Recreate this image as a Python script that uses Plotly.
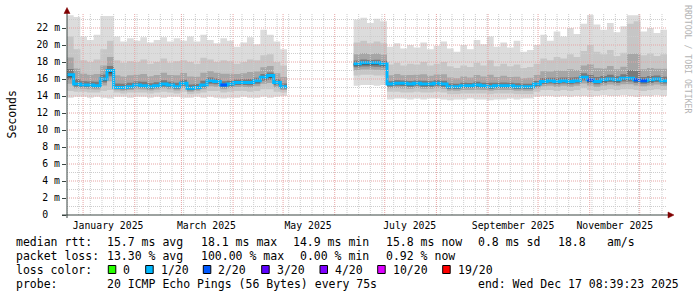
import plotly.graph_objects as go
import pandas as pd

# ---------------- data ----------------
START = "2024-12-22 08:39:23"
END = "2025-12-17 08:39:23"
STEP = "4D"
N = None

rtt_median = [16.5, 15.4, 15.3, 15.3, 15.2, 16.0, 17.0, 15.0, 15.0, 15.1,
              15.3, 15.2, 15.1, 15.2, 15.4, 15.3, 15.1, 15.5, 14.9, 15.0,
              15.3, 15.8, 15.7, 15.3, 15.4, 15.6, 15.6, 15.6, 15.8, 16.2,
              16.4, 15.6, 15.1, N, N, N, N, N, N, N,
              N, N, N, 17.8, 17.9, 17.9, 17.9, 17.8, 15.4, 15.5,
              15.5, 15.4, 15.5, 15.4, 15.4, 15.5, 15.4, 15.1, 15.1, 15.2,
              15.2, 15.3, 15.2, 15.1, 15.2, 15.2, 15.2, 15.1, 15.1, 15.1,
              15.4, 15.7, 15.8, 15.7, 15.8, 15.7, 15.8, 16.2, 15.9, 15.7,
              15.9, 16.0, 15.9, 16.1, 16.1, 15.9, 15.8, 15.9, 16.0, 15.8]

rtt_max = [23.5, 23.3, 21.0, 20.6, 21.2, 23.4, 23.4, 21.0, 20.4, 20.8,
           20.5, 20.9, 20.3, 20.6, 20.9, 20.4, 20.8, 20.5, 21.0, 20.4,
           21.2, 20.6, 20.2, 20.8, 20.5, 19.8, 20.3, 20.9, 20.1, 21.8,
           21.2, 20.4, 19.5, N, N, N, N, N, N, N,
           N, N, N, 23.0, 23.2, 22.6, 23.1, 22.8, 19.8, 20.2,
           19.6, 20.0, 19.7, 20.3, 19.5, 19.9, 20.4, 19.6, 19.2, 20.0,
           19.5, 20.6, 20.1, 21.0, 19.8, 20.3, 19.7, 20.5, 19.2, 19.4,
           20.0, 21.2, 20.5, 21.6, 21.0, 22.0, 21.3, 22.5, 23.6, 22.4,
           21.8, 22.6, 21.5, 22.2, 23.5, 23.5, 21.6, 22.0, 21.4, 21.8]

rtt_high = [21.0, 19.5, 18.2, 18.0, 18.3, 19.5, 20.5, 18.2, 17.9, 18.1,
            18.0, 18.3, 17.8, 18.0, 18.4, 17.9, 18.1, 18.2, 18.0, 17.8,
            18.5, 18.3, 18.0, 18.2, 18.1, 17.8, 18.0, 18.3, 18.2, 18.8,
            18.9, 18.0, 17.6, N, N, N, N, N, N, N,
            N, N, N, 20.3, 20.5, 20.2, 20.4, 20.2, 17.7, 17.9,
            17.6, 17.8, 17.7, 18.0, 17.6, 17.8, 18.0, 17.5, 17.3, 17.6,
            17.4, 17.9, 17.6, 18.2, 17.5, 17.8, 17.5, 17.7, 17.3, 17.4,
            17.8, 18.4, 18.2, 18.6, 18.4, 18.9, 18.6, 19.3, 20.0, 19.2,
            18.9, 19.4, 18.7, 19.1, 22.5, 22.8, 18.8, 19.0, 18.7, 18.9]

rtt_low = [14.6, 14.5, 14.5, 14.4, 14.4, 14.6, 14.7, 14.4, 14.3, 14.4,
           14.4, 14.4, 14.3, 14.4, 14.5, 14.4, 14.3, 14.5, 14.2, 14.3,
           14.4, 14.6, 14.6, 14.4, 14.5, 14.6, 14.6, 14.5, 14.6, 14.8,
           14.8, 14.5, 14.4, N, N, N, N, N, N, N,
           N, N, N, 16.4, 16.5, 16.5, 16.4, 16.4, 14.5, 14.5,
           14.4, 14.4, 14.5, 14.4, 14.4, 14.5, 14.4, 14.2, 14.2, 14.3,
           14.3, 14.3, 14.3, 14.2, 14.3, 14.3, 14.3, 14.2, 14.2, 14.2,
           14.5, 14.7, 14.7, 14.6, 14.7, 14.6, 14.7, 14.9, 14.7, 14.6,
           14.7, 14.8, 14.7, 14.8, 14.8, 14.7, 14.6, 14.7, 14.8, 14.7]

rtt_min = [13.8, 13.9, 13.9, 13.8, 13.9, 13.8, 13.7, 13.9, 13.9, 13.8,
           13.9, 13.9, 13.8, 13.9, 13.8, 13.9, 13.9, 13.8, 13.8, 13.9,
           13.8, 13.9, 13.8, 13.7, 13.8, 13.8, 13.9, 13.8, 13.8, 13.9,
           13.8, 13.9, 14.0, N, N, N, N, N, N, N,
           N, N, N, 15.2, 15.3, 15.3, 15.2, 15.3, 13.6, 13.7,
           13.7, 13.6, 13.7, 13.6, 13.7, 13.7, 13.6, 13.5, 13.6, 13.6,
           13.7, 13.6, 13.6, 13.5, 13.6, 13.6, 13.7, 13.6, 13.7, 13.7,
           13.9, 14.0, 14.0, 13.9, 14.0, 13.9, 14.0, 14.0, 13.9, 14.0,
           14.1, 14.0, 14.0, 14.1, 14.0, 13.9, 14.0, 14.0, 14.1, 14.0]

loss_level = [1] * 90
for _i in (23, 78, 85, 86):
    loss_level[_i] = 2

loss_labels = ["0", "1/20", "2/20", "3/20", "4/20", "10/20", "19/20"]
loss_colors = ["#26ff00", "#00b8ff", "#0059ff", "#5e00ff", "#7e00ff", "#dd00ff", "#ff0000"]
loss_index = {0: 0, 1: 1, 2: 2, 3: 3, 4: 4, 10: 5, 19: 6}

month_labels = ["January 2025", "March 2025", "May 2025", "July 2025",
                "September 2025", "November 2025"]
month_label_dates = ["2025-01-16", "2025-03-16", "2025-05-16", "2025-07-16",
                     "2025-09-16", "2025-11-16"]

y_tick_vals = [0, 2, 4, 6, 8, 10, 12, 14, 16, 18, 20, 22]
y_tick_text = ["0\u00a0\u00a0"] + [f"{v} m" for v in y_tick_vals[1:]]

rtt_stats = ["15.7 ms avg", "18.1 ms max", "14.9 ms min", "15.8 ms now", "0.8 ms sd", "18.8", "am/s"]
loss_stats = ["13.30 % avg", "100.00 % max", "0.00 % min", "0.92 % now"]
probe_text = "20 ICMP Echo Pings (56 Bytes) every 75s"
end_text = "end: Wed Dec 17 08:39:23 2025"

# ---------------- layout geometry (pixels) ----------------
W, H = 697, 297
PL, PR, PT, PB = 67, 667, 15, 215
Y_MAX = 23.53
FONT = "DejaVu Sans Mono"
AXIS_COL = "#3a4642"
ARROW_COL = "#800000"


def px(x):
    return (x - PL) / (PR - PL)


def py(y):
    return (PB - y) / (PB - PT)


bounds = pd.date_range(START, periods=len(rtt_median) + 1, freq=STEP)

# contiguous runs of data
runs = []
cur = None
for i, v in enumerate(rtt_median):
    if v is not None and cur is None:
        cur = i
    if v is None and cur is not None:
        runs.append((cur, i - 1))
        cur = None
if cur is not None:
    runs.append((cur, len(rtt_median) - 1))

fig = go.Figure()


def step_xy(arr, a, b):
    xs = list(bounds[a:b + 2])
    ys = list(arr[a:b + 1]) + [arr[b]]
    return xs, ys


def add_band(lo, hi, color, a, b):
    x, y0 = step_xy(lo, a, b)
    _, y1 = step_xy(hi, a, b)
    fig.add_trace(go.Scatter(x=x, y=y0, mode="lines", line=dict(width=0, shape="hv"),
                             hoverinfo="skip", showlegend=False))
    fig.add_trace(go.Scatter(x=x, y=y1, mode="lines", line=dict(width=0, shape="hv"),
                             fill="tonexty", fillcolor=color, hoverinfo="skip", showlegend=False))


med = rtt_median
# smoke gradient: shades blended between the read percentile arrays
m3lo = [None if m is None else m - 0.55 * (m - l) for m, l in zip(med, rtt_low)]
m3hi = [None if m is None else m + 0.45 * (h - m) for m, h in zip(med, rtt_high)]
m4lo = [None if m is None else m - 0.3 * (m - l) for m, l in zip(med, rtt_low)]
m4hi = [None if m is None else m + 0.15 * (h - m) for m, h in zip(med, rtt_high)]
m5lo = [None if m is None else m - 0.15 * (m - l) for m, l in zip(med, rtt_low)]
for a, b in runs:
    add_band(rtt_min, rtt_max, "#dcdcdc", a, b)
    add_band(rtt_low, rtt_high, "#c6c6c6", a, b)
    add_band(m3lo, m3hi, "#a6a6a6", a, b)
    add_band(m4lo, m4hi, "#7a7a7a", a, b)
    add_band(m5lo, med, "#4a4a4a", a, b)

# median line (1/20 loss colour) and other loss colours
for a, b in runs:
    x, y = step_xy(rtt_median, a, b)
    fig.add_trace(go.Scatter(x=x, y=y, mode="lines",
                             line=dict(width=3, shape="hv", color=loss_colors[1]),
                             hoverinfo="skip", showlegend=False))
for i, lv in enumerate(loss_level):
    if rtt_median[i] is None or lv == 1:
        continue
    fig.add_trace(go.Scatter(x=[bounds[i], bounds[i + 1]], y=[rtt_median[i]] * 2, mode="lines",
                             line=dict(width=3, color=loss_colors[loss_index[lv]]),
                             hoverinfo="skip", showlegend=False))

shapes = []
# horizontal grid
for yv in range(1, 24):
    if yv > Y_MAX:
        break
    major = yv % 2 == 0
    shapes.append(dict(type="line", xref="paper", yref="y", x0=0, x1=1, y0=yv, y1=yv,
                       layer="above",
                       line=dict(color="#e6a4a4" if major else "#cdcdcd", width=1, dash="1px,1px")))
# vertical grid: weekly minor, monthly major
month_starts = pd.date_range("2025-01-01", END, freq="MS")
weeks = pd.date_range(START, END, freq="W-SUN")
for d in weeks:
    if d.day == 1:
        continue
    shapes.append(dict(type="line", xref="x", yref="paper", x0=d, x1=d, y0=0, y1=1.005,
                       layer="above", line=dict(color="#cdcdcd", width=1, dash="1px,1px")))
for d in month_starts:
    shapes.append(dict(type="line", xref="x", yref="paper", x0=d, x1=d, y0=0, y1=1.005,
                       layer="above", line=dict(color="#e6a4a4", width=1, dash="1px,1px")))
# axes lines
shapes.append(dict(type="line", xref="paper", yref="paper", x0=px(62), x1=px(669), y0=0, y1=0,
                   layer="above", line=dict(color=AXIS_COL, width=1)))
shapes.append(dict(type="line", xref="paper", yref="paper", x0=0, x1=0, y0=py(218), y1=py(12),
                   layer="above", line=dict(color=AXIS_COL, width=1)))
# arrows
shapes.append(dict(type="path", xref="paper", yref="paper",
                   path=f"M {px(668)} {py(212)} L {px(674)} {py(215)} L {px(668)} {py(218)} Z",
                   fillcolor=ARROW_COL, line=dict(color=ARROW_COL, width=0.5), layer="above"))
shapes.append(dict(type="path", xref="paper", yref="paper",
                   path=f"M {px(64)} {py(13.5)} L {px(67)} {py(7.5)} L {px(70)} {py(13.5)} Z",
                   fillcolor=ARROW_COL, line=dict(color=ARROW_COL, width=0.5), layer="above"))

annotations = []


def text_at(x, y, s, size=11.5, color="#000000", anchor="left"):
    annotations.append(dict(xref="paper", yref="paper", x=px(x), y=py(y), text=s,
                            showarrow=False, xanchor=anchor, yanchor="middle",
                            borderpad=0, borderwidth=0,
                            font=dict(family=FONT, size=size, color=color)))


# legend / stats lines
y1, y2, y3, y4 = 241.5, 255.5, 269.5, 283.5
text_at(16, y1, "median rtt:")
for xx, s in zip([107.3, 200.7, 293.3, 386, 478.3, 558.3, 606.7], rtt_stats):
    text_at(xx, y1, s)
text_at(16, y2, "packet loss:")
for xx, s in zip([107.3, 200.7, 300, 386], loss_stats):
    text_at(xx, y2, s)
text_at(16, y3, "loss color:")
box_x = [108.3, 145.7, 203.3, 261.7, 320, 377.7, 442.7]
for bx, lab, col in zip(box_x, loss_labels, loss_colors):
    shapes.append(dict(type="rect", xref="paper", yref="paper",
                       x0=px(bx), x1=px(bx + 7.5), y0=py(273.5), y1=py(265.5),
                       fillcolor=col, line=dict(color="#000000", width=1), layer="above"))
    text_at(bx + 15, y3, lab)
text_at(16, y4, "probe:")
text_at(107.3, y4, probe_text)
text_at(478.3, y4, end_text)

# axis title and watermark
annotations.append(dict(xref="paper", yref="paper", x=px(11), y=py(114.5), text="Seconds",
                        showarrow=False, textangle=-90, xanchor="center", yanchor="middle",
                        font=dict(family=FONT, size=11.5, color="#000000")))
annotations.append(dict(xref="paper", yref="paper", x=px(688), y=py(59), text="RRDTOOL / TOBI OETIKER",
                        showarrow=False, textangle=90, xanchor="center", yanchor="middle",
                        font=dict(family=FONT, size=8.2, color="#b4b4b4")))

fig.update_layout(
    width=W, height=H,
    margin=dict(l=PL, r=W - PR, t=PT, b=H - PB, pad=0),
    paper_bgcolor="#ffffff", plot_bgcolor="#ffffff",
    shapes=shapes, annotations=annotations,
    showlegend=False,
    xaxis=dict(type="date", range=[START, END], showgrid=False, zeroline=False, showline=False,
               tickmode="array", tickvals=month_label_dates, ticktext=month_labels,
               ticks="", ticklabelstandoff=3,
               tickfont=dict(family=FONT, size=9.8, color="#000000"), fixedrange=True),
    yaxis=dict(range=[0, Y_MAX], showgrid=False, zeroline=False, showline=False,
               tickmode="array", tickvals=y_tick_vals, ticktext=y_tick_text,
               ticks="outside", ticklen=4, tickcolor=AXIS_COL, tickwidth=1,
               tickfont=dict(family=FONT, size=9.8, color="#000000"), fixedrange=True),
)

fig.write_html("out.html")
